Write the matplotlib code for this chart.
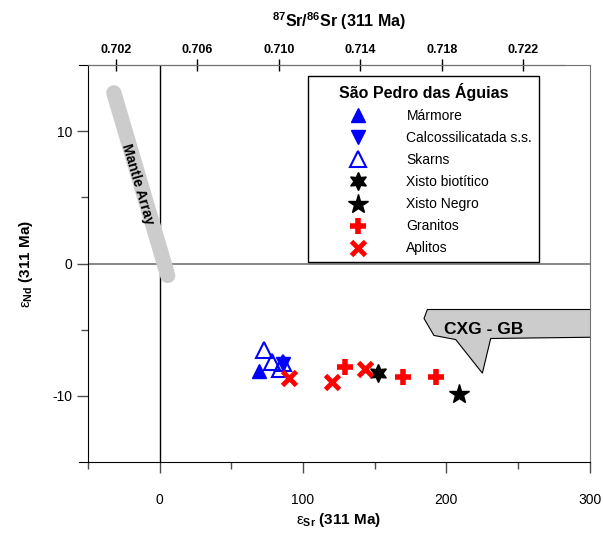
import matplotlib
matplotlib.use('Agg')
import matplotlib.pyplot as plt
from matplotlib.patches import Polygon

plt.rcParams['font.family'] = ['Liberation Sans', 'DejaVu Sans']
plt.rcParams['mathtext.fontset'] = 'custom'
plt.rcParams['mathtext.rm'] = 'Liberation Sans'
plt.rcParams['mathtext.bf'] = 'Liberation Sans:bold'
plt.rcParams['mathtext.it'] = 'Liberation Sans:italic'
plt.rcParams['axes.unicode_minus'] = False

# bulk earth 87Sr/86Sr at 311 Ma used for the top axis
R0 = 0.70415

# data (eSr, eNd)
marmore_x = [69]
marmore_y = [-8.1]
calco_x = [86]
calco_y = [-7.6]
skarns_x = [73, 78, 86, 84]
skarns_y = [-6.5, -7.4, -7.5, -8.0]
xbiot_x = [152.5]
xbiot_y = [-8.25]
xnegro_x = [209]
xnegro_y = [-9.85]
granitos_x = [129, 170, 192.5]
granitos_y = [-7.85, -8.6, -8.6]
aplitos_x = [90, 120.5, 143]
aplitos_y = [-8.65, -8.95, -7.95]

mantle_x = [-32, 5.6]
mantle_y = [12.9, -0.9]

cxg_x = [186.7, 305, 305, 230.9, 225.1, 206.5, 191.3, 184.4]
cxg_y = [-3.47, -3.47, -5.56, -5.66, -8.28, -5.74, -5.43, -4.15]

top_ticks = [0.702, 0.706, 0.710, 0.714, 0.718, 0.722]


def eps2ratio(e):
    return R0 * (1 + e / 1e4)


def ratio2eps(r):
    return (r / R0 - 1) * 1e4


fig = plt.figure(figsize=(6.03, 5.33), dpi=100)
ax = fig.add_axes([0.146, 0.133, 0.832, 0.745])

ax.set_xlim(-50, 300)
ax.set_ylim(-15, 15)

# reference lines
ax.axvline(0, color='black', lw=1, zorder=1)
ax.axhline(0, color='0.45', lw=1.2, zorder=1)

# mantle array
ax.plot(mantle_x, mantle_y, color='#cccccc', lw=11, solid_capstyle='round', zorder=2)
ax.text(-15.5, 6.0, 'Mantle Array', rotation=-73.6, ha='center', va='center',
        rotation_mode='anchor', fontsize=10, fontweight='bold', zorder=3)

# CXG - GB field
poly = Polygon(list(zip(cxg_x, cxg_y)), closed=True, facecolor='#cccccc',
               edgecolor='black', lw=0.8, zorder=2)
ax.add_patch(poly)
ax.text(226, -4.95, 'CXG - GB', ha='center', va='center', fontsize=12.5,
        fontweight='bold', zorder=3)

blue = '#0000ff'
red = '#ff0000'
ax.plot(skarns_x, skarns_y, ls='none', marker='^', ms=11, mfc='none', mec=blue,
        mew=1.5, label='Skarns', zorder=5)
ax.plot(marmore_x, marmore_y, ls='none', marker='^', ms=10, color=blue,
        label='Mármore', zorder=5)
ax.plot(calco_x, calco_y, ls='none', marker='v', ms=10, color=blue,
        label='Calcossilicatada s.s.', zorder=5)
ax.plot(xbiot_x, xbiot_y, ls='none', marker=(6, 1, 0), ms=13, color='black',
        label='Xisto biotítico', zorder=5)
ax.plot(xnegro_x, xnegro_y, ls='none', marker='*', ms=15, color='black',
        label='Xisto Negro', zorder=5)
ax.plot(granitos_x, granitos_y, ls='none', marker='+', ms=11, mew=4, color=red,
        label='Granitos', zorder=6)
ax.plot(aplitos_x, aplitos_y, ls='none', marker='x', ms=10, mew=3.5, color=red,
        label='Aplitos', zorder=6)

# legend in the original order
handles, labels = ax.get_legend_handles_labels()
order = ['Mármore', 'Calcossilicatada s.s.', 'Skarns', 'Xisto biotítico',
         'Xisto Negro', 'Granitos', 'Aplitos']
hmap = dict(zip(labels, handles))
leg = ax.legend([hmap[k] for k in order], order, loc='upper left',
                bbox_to_anchor=(0.438, 0.972), borderaxespad=0, fontsize=10,
                title='São Pedro das Águias', handlelength=6.2, handletextpad=0.4,
                labelspacing=0.58, borderpad=0.5, numpoints=1, fancybox=False,
                framealpha=1, edgecolor='black')
leg.get_title().set_fontweight('bold')
leg.get_title().set_fontsize(11.5)
leg.get_frame().set_linewidth(1.0)
leg.set_zorder(10)

# axes styling
ax.set_xticks([0, 100, 200, 300])
ax.set_xticks([-50, 50, 150, 250], minor=True)
ax.set_yticks([-10, 0, 10])
ax.set_yticks([-5, 5], minor=True)
ax.tick_params(axis='both', which='major', direction='out', length=8, width=1,
               labelsize=10, color='0.3')
ax.tick_params(axis='both', which='minor', direction='out', length=5, width=1,
               color='0.3')
ax.tick_params(axis='x', which='major', pad=14)
for side in ['top', 'right']:
    ax.spines[side].set_color('0.45')
for side in ['left', 'bottom']:
    ax.spines[side].set_color('black')
ax.spines['bottom'].set_bounds(-56, 300)

ax.set_xlabel(r'$\mathrm{\varepsilon}_{\mathbf{Sr}}$ (311 Ma)', fontsize=11,
              fontweight='bold', labelpad=3)
ax.set_ylabel(r'$\mathrm{\varepsilon}_{\mathbf{Nd}}$ (311 Ma)', fontsize=11,
              fontweight='bold', labelpad=12)

# top axis in 87Sr/86Sr
secax = ax.secondary_xaxis('top', functions=(eps2ratio, ratio2eps))
secax.set_xticks(top_ticks)
secax.set_xticklabels(['%.3f' % t for t in top_ticks], fontweight='bold')
secax.tick_params(direction='inout', length=9, width=1, labelsize=9, pad=2)
secax.spines['top'].set_bounds(eps2ratio(-56), eps2ratio(283))
secax.spines['top'].set_color('black')
secax.set_xlabel(r'$^{\mathbf{87}}$Sr/$^{\mathbf{86}}$Sr (311 Ma)', fontsize=11.5,
                 fontweight='bold', labelpad=12)

fig.savefig('out.png', dpi=100)
